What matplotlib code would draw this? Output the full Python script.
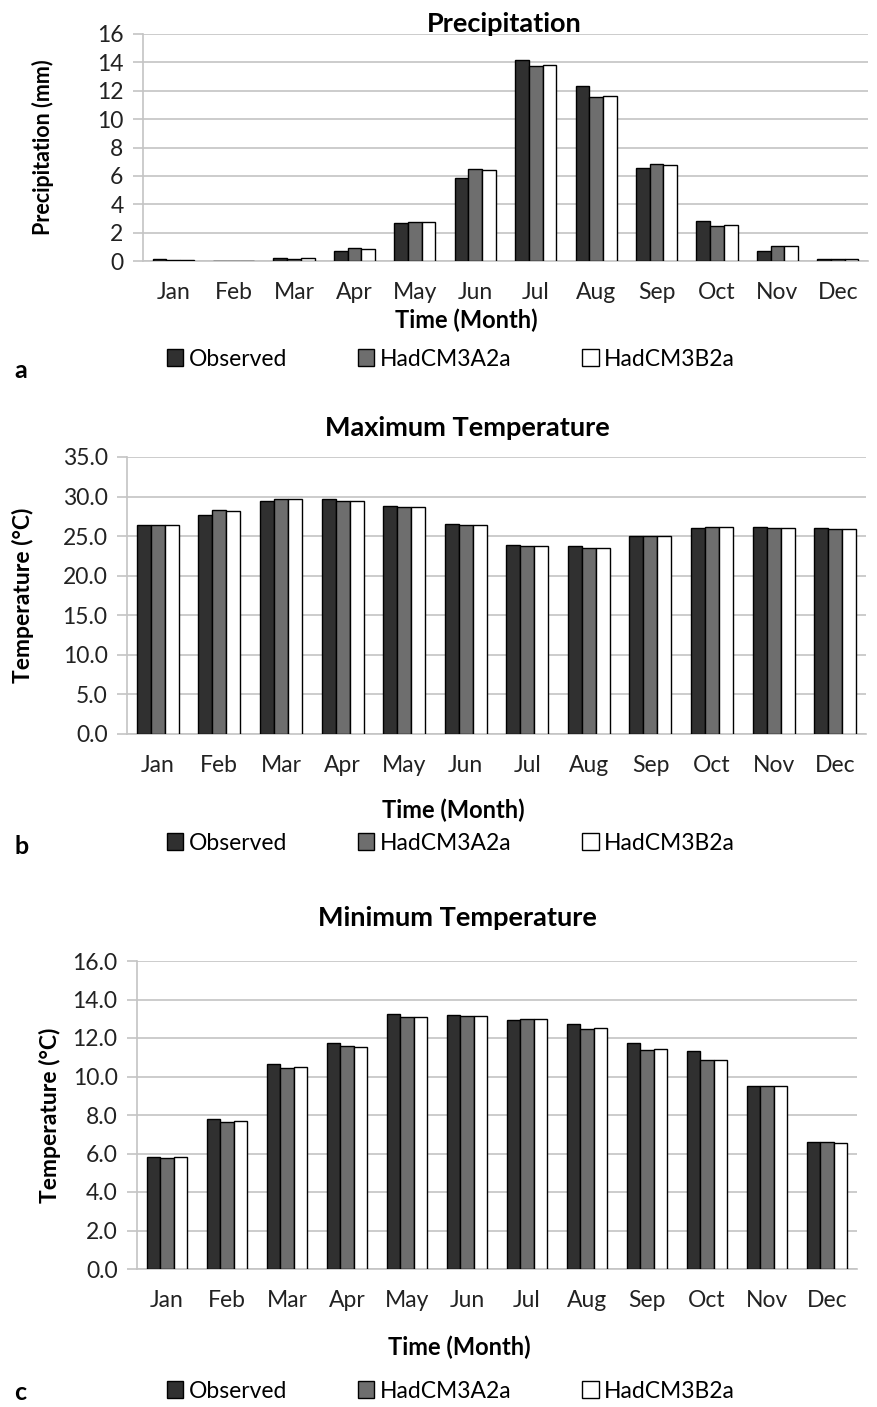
import numpy as np
import matplotlib
matplotlib.use('Agg')
import matplotlib.pyplot as plt

plt.rcParams['font.family'] = ['Lato', 'DejaVu Sans']

#%% data
months = ['Jan', 'Feb', 'Mar', 'Apr', 'May', 'Jun', 'Jul', 'Aug', 'Sep', 'Oct', 'Nov', 'Dec']
series_names = ['Observed', 'HadCM3A2a', 'HadCM3B2a']

precip_obs = [0.12, 0.0, 0.2, 0.7, 2.65, 5.87, 14.16, 12.36, 6.58, 2.84, 0.73, 0.15]
precip_a2 = [0.1, 0.0, 0.15, 0.9, 2.75, 6.46, 13.72, 11.58, 6.86, 2.47, 1.06, 0.15]
precip_b2 = [0.1, 0.0, 0.18, 0.85, 2.72, 6.39, 13.79, 11.63, 6.79, 2.51, 1.06, 0.15]

tmax_obs = [26.45, 27.7, 29.46, 29.67, 28.75, 26.55, 23.86, 23.7, 24.96, 26.05, 26.1, 26.05]
tmax_a2 = [26.45, 28.28, 29.67, 29.5, 28.67, 26.4, 23.7, 23.48, 25.0, 26.1, 25.97, 25.88]
tmax_b2 = [26.45, 28.15, 29.67, 29.5, 28.67, 26.4, 23.7, 23.48, 25.0, 26.1, 25.97, 25.88]

tmin_obs = [5.84, 7.79, 10.67, 11.72, 13.23, 13.2, 12.96, 12.73, 11.76, 11.31, 9.49, 6.58]
tmin_a2 = [5.75, 7.62, 10.46, 11.58, 13.09, 13.15, 13.0, 12.49, 11.36, 10.88, 9.49, 6.58]
tmin_b2 = [5.84, 7.67, 10.5, 11.55, 13.09, 13.15, 13.0, 12.52, 11.41, 10.88, 9.49, 6.55]

colours = ['#303030', '#6e6e6e', '#ffffff']
grid_col = '#c4c4c4'
W, H = 877, 1407


def px_rect(l, t, r, b):
    return [l / W, 1 - b / H, (r - l) / W, (b - t) / H]


def panel(fig, rect, data, ymax, ystep, fmt, title, ylabel, letter,
          title_xy, ylab_x, xlab_xy, leg_y, letter_y, ylab_size=16.5):
    ax = fig.add_axes(px_rect(*rect))
    x = np.arange(len(months))
    w = 0.227
    bars = []
    for k, vals in enumerate(data):
        b = ax.bar(x + (k - 1) * w, vals, width=w, color=colours[k],
                   edgecolor='black', linewidth=1.0, label=series_names[k], zorder=3)
        bars.append(b)
    ax.set_xlim(-0.5, len(months) - 0.5)
    ax.set_ylim(0, ymax)
    ax.set_yticks(np.arange(0, ymax + ystep / 2, ystep))
    ax.set_yticklabels([fmt.format(v) for v in np.arange(0, ymax + ystep / 2, ystep)])
    ax.set_xticks(x)
    ax.set_xticklabels(months)
    ax.yaxis.grid(True, color=grid_col, linewidth=1.2, zorder=0)
    ax.set_axisbelow(True)
    for s in ['top', 'right']:
        ax.spines[s].set_visible(False)
    for s in ['left', 'bottom']:
        ax.spines[s].set_color(grid_col)
        ax.spines[s].set_linewidth(1.2)
    ax.tick_params(axis='y', length=7, width=1.2, color=grid_col, pad=7, labelsize=16.5, labelcolor='#222222')
    ax.tick_params(axis='x', length=0, pad=15, labelsize=16.5, labelcolor='#222222')

    l, t, r, b = rect
    fig.text(title_xy[0] / W, 1 - title_xy[1] / H, title, ha='center', va='center',
             fontsize=19.5, fontweight='bold')
    fig.text(ylab_x / W, 1 - (t + b) / 2 / H, ylabel, ha='center', va='center',
             rotation=90, fontsize=ylab_size, fontweight='bold')
    fig.text(xlab_xy[0] / W, 1 - xlab_xy[1] / H, 'Time (Month)', ha='center', va='center',
             fontsize=17, fontweight='bold')
    fig.text(14 / W, 1 - letter_y / H, letter, ha='left', va='center',
             fontsize=18, fontweight='bold')
    fig.legend(handles=bars, labels=series_names, loc='center',
               bbox_to_anchor=(451 / W, 1 - leg_y / H), ncol=3, frameon=False,
               fontsize=16.5, handlelength=0.7, handleheight=0.7,
               handletextpad=0.25, columnspacing=3.1)
    return ax


fig = plt.figure(figsize=(W / 100, H / 100), dpi=100)

panel(fig, (143, 34, 868, 261), [precip_obs, precip_a2, precip_b2], 16, 2, '{:.0f}',
      'Precipitation', 'Precipitation (mm)', 'a',
      (504, 24), 43, (466, 320), 359, 370, ylab_size=15.5)

panel(fig, (127, 457, 866, 734), [tmax_obs, tmax_a2, tmax_b2], 35, 5, '{:.1f}',
      'Maximum Temperature', 'Temperature (°C)', 'b',
      (467, 428), 23, (453, 810), 843, 847)

panel(fig, (137, 961, 857, 1269), [tmin_obs, tmin_a2, tmin_b2], 16, 2, '{:.1f}',
      'Minimum Temperature', 'Temperature (°C)', 'c',
      (457, 918), 50, (459, 1347), 1391, 1393)

plt.savefig('out.png', dpi=100)
